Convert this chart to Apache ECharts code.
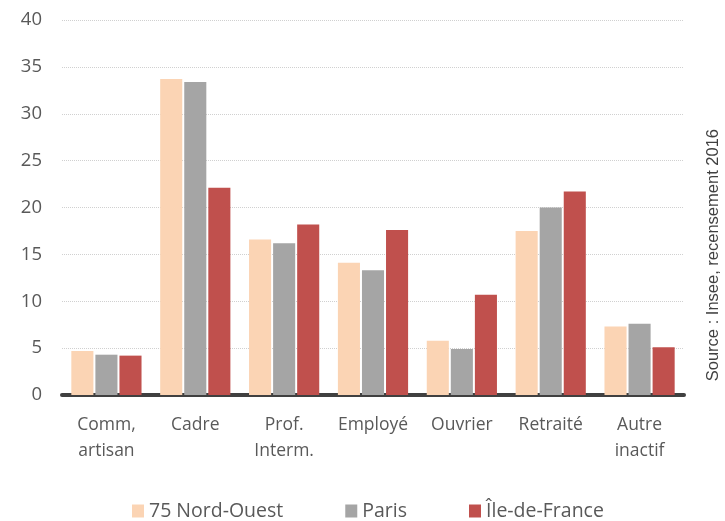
<!DOCTYPE html>
<html><head><meta charset="utf-8">
<script src="https://cdn.jsdelivr.net/npm/echarts@6/dist/echarts.min.js"></script>
<style>html,body{margin:0;padding:0;background:#fff}#c{width:725px;height:521px}</style>
</head><body><div id="c"></div>
<script>
const categories = ['Comm,\nartisan', 'Cadre', 'Prof.\nInterm.', 'Employé', 'Ouvrier', 'Retraité', 'Autre\ninactif'];
const nordOuest = [4.7, 33.7, 16.6, 14.1, 5.8, 17.5, 7.3];
const paris = [4.3, 33.4, 16.2, 13.3, 4.9, 20.0, 7.6];
const ileDeFrance = [4.2, 22.1, 18.2, 17.6, 10.7, 21.7, 5.1];
const seriesNames = ['75 Nord-Ouest', 'Paris', 'Île-de-France'];
const sourceText = 'Source : Insee, recensement 2016';

const chart = echarts.init(document.getElementById('c'));
const font = '"Open Sans", "Noto Sans", sans-serif';
const mk = (name, data, color) => ({
  name, type: 'bar', data, barGap: '9%', barCategoryGap: '21%',
  itemStyle: { color }
});
chart.setOption({
  animation: false,
  grid: { left: 62, right: 41, top: 20, bottom: 126 },
  legend: {
    left: 127, top: 496, itemWidth: 12, itemHeight: 13, itemGap: 62,
    icon: 'rect',
    textStyle: { fontFamily: font, fontSize: 19.5, color: '#595959' },
    data: seriesNames
  },
  xAxis: {
    type: 'category', data: categories,
    axisLine: { lineStyle: { color: '#404040', width: 4 } },
    axisTick: { show: false },
    axisLabel: { interval: 0, hideOverlap: false, fontFamily: font, fontSize: 17.5, color: '#595959', margin: 17, lineHeight: 26 }
  },
  yAxis: {
    type: 'value', min: 0, max: 40, interval: 5,
    axisLine: { show: false }, axisTick: { show: false },
    splitLine: { lineStyle: { color: '#d0d0d0', type: [1, 1], width: 1 } },
    axisLabel: { fontFamily: font, fontSize: 18.5, color: '#595959', margin: 20 }
  },
  series: [
    mk(seriesNames[0], nordOuest, '#fbd4b4'),
    mk(seriesNames[1], paris, '#a5a5a5'),
    mk(seriesNames[2], ileDeFrance, '#c0504d')
  ],
  graphic: [{
    type: 'text', left: 705, top: 129, rotation: Math.PI / 2,
    style: { text: sourceText, fontFamily: 'Liberation Sans, Arial, sans-serif', fontSize: 16.5, fill: '#404040' }
  }]
});
</script></body></html>
